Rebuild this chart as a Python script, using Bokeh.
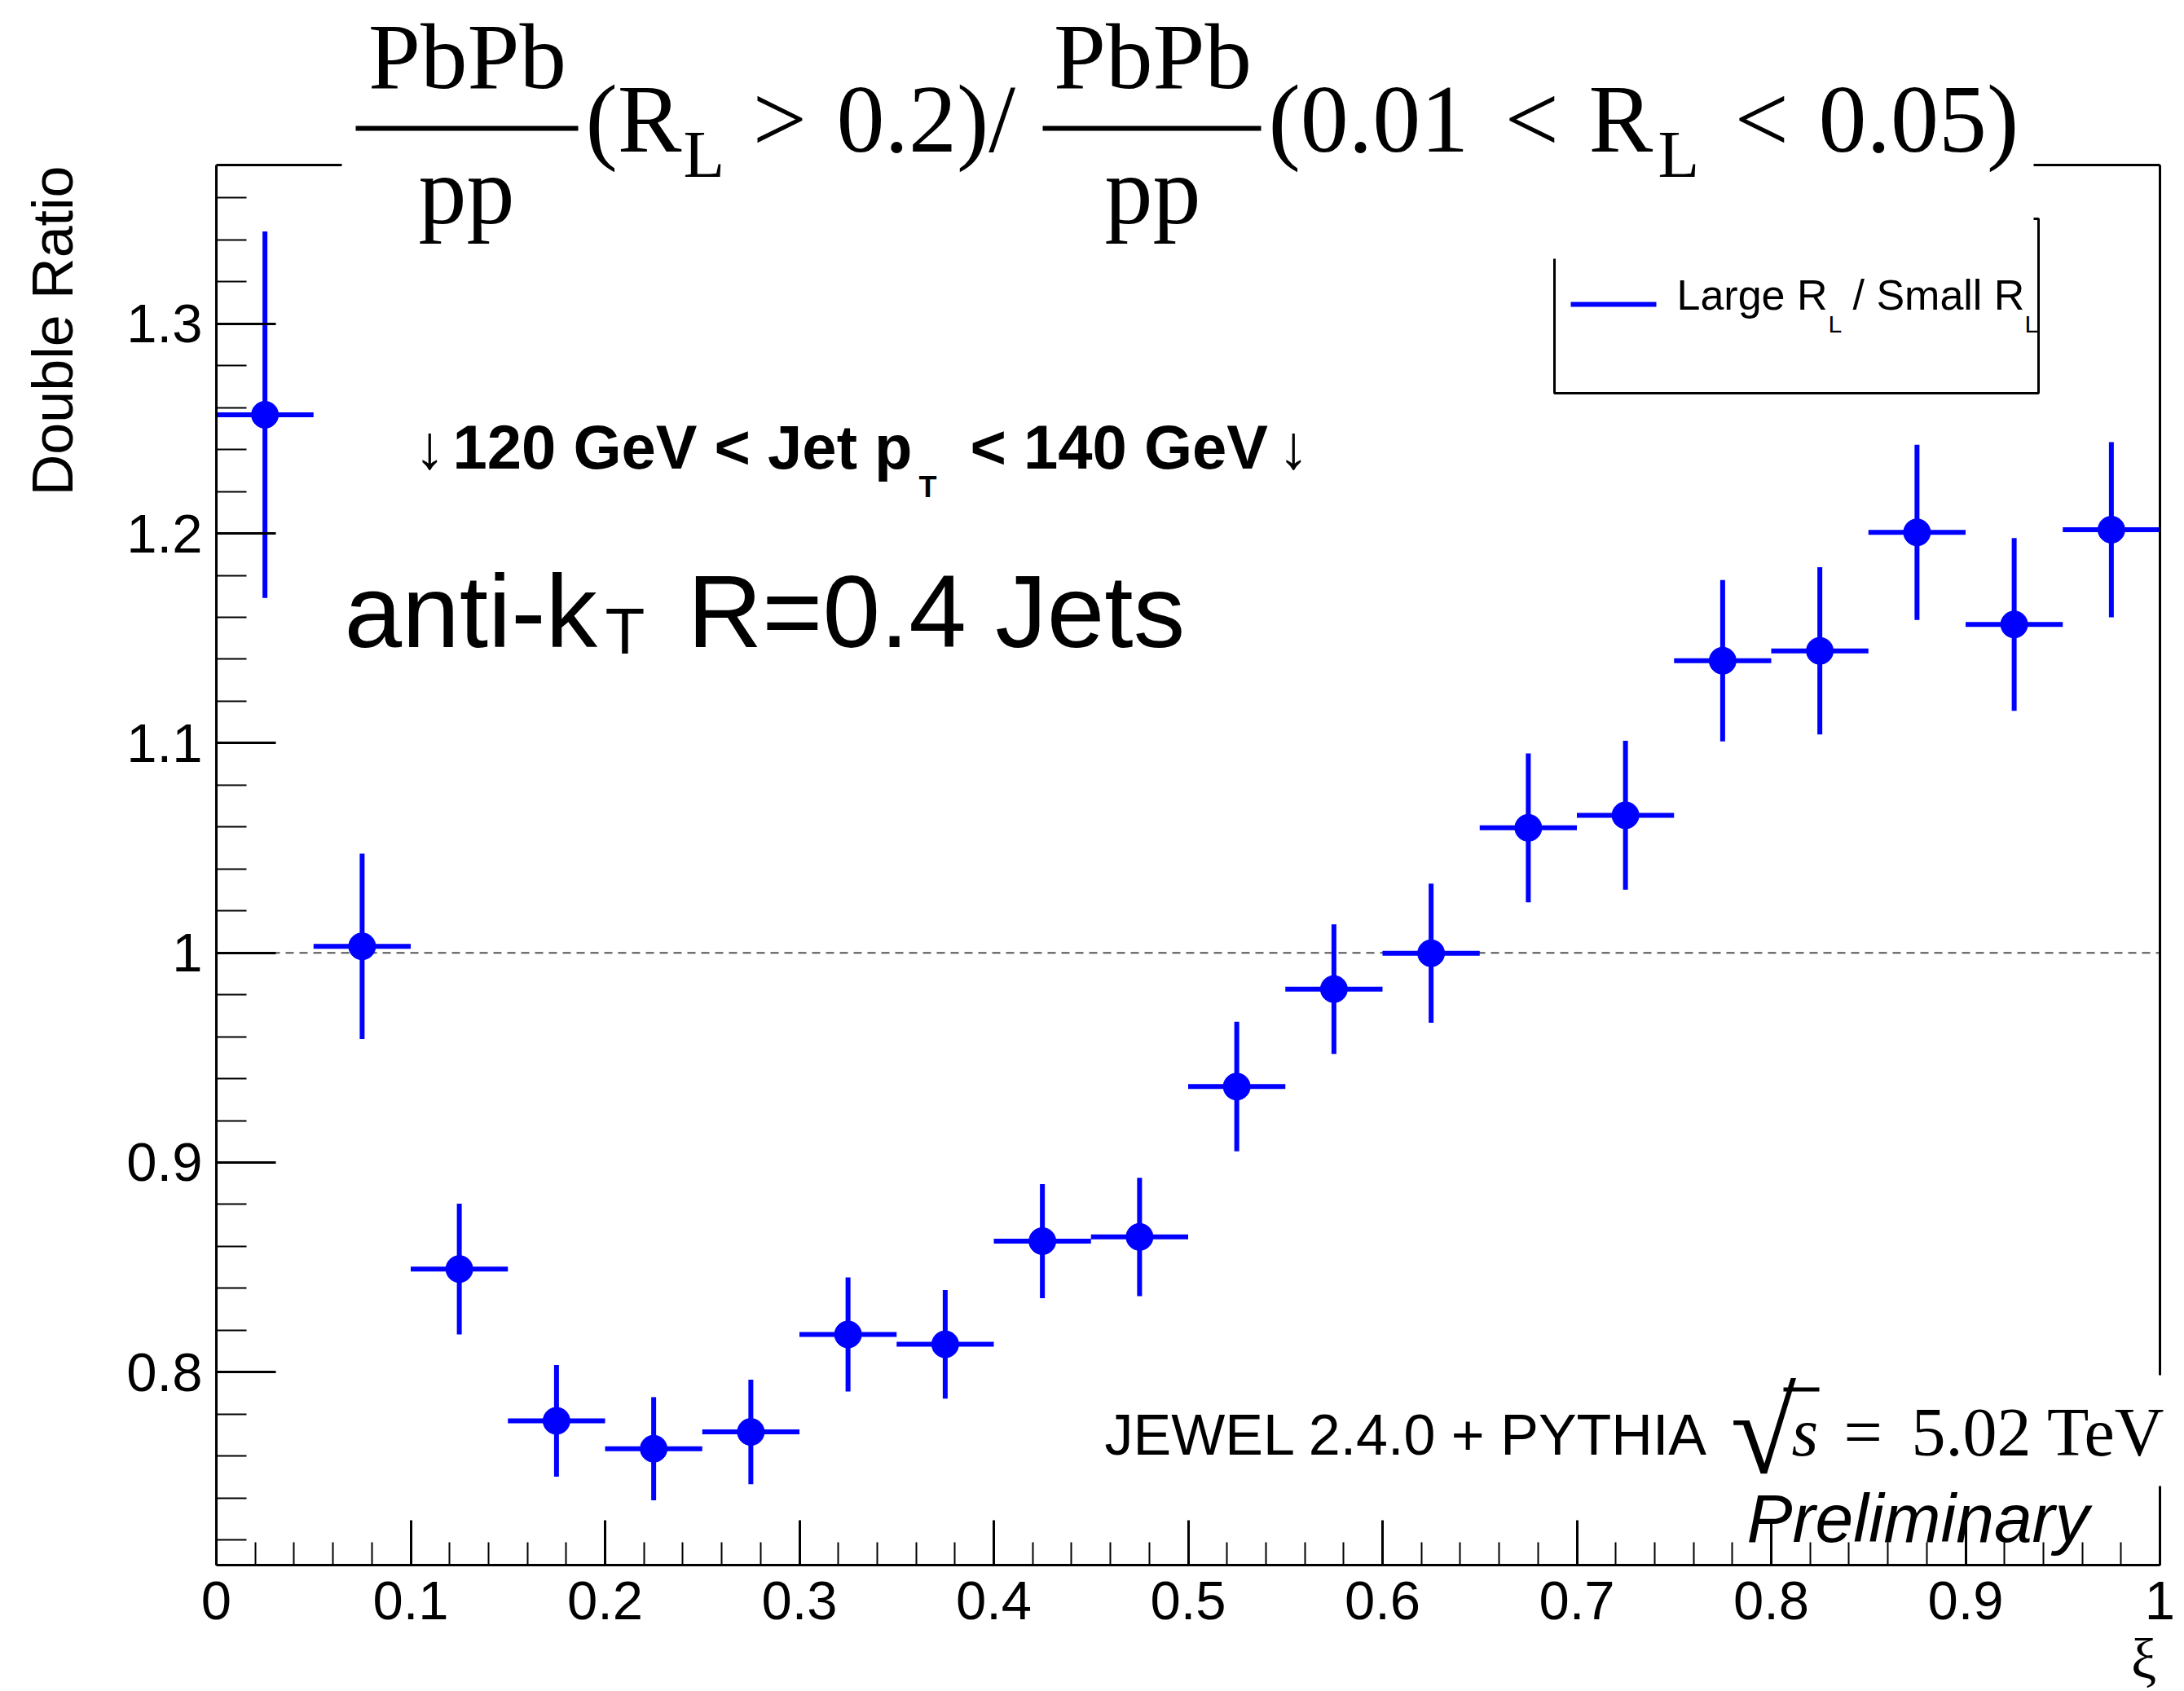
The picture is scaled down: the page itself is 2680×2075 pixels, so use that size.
import math
from bokeh.plotting import figure
from bokeh.models import (Label, BoxAnnotation, SingleIntervalTicker, FixedTicker,
                          CustomJSTickFormatter, Range1d, ColumnDataSource, LinearAxis)
from bokeh.embed import file_html
from bokeh.resources import INLINE

# ---------------- data ----------------
xi_bin_low = [0.00, 0.05, 0.10, 0.15, 0.20, 0.25, 0.30, 0.35, 0.40, 0.45,
              0.50, 0.55, 0.60, 0.65, 0.70, 0.75, 0.80, 0.85, 0.90, 0.95]
bin_width = 0.05
double_ratio = [1.2566, 1.0031, 0.8492, 0.7768, 0.7635, 0.7715, 0.8180, 0.8133,
                0.8625, 0.8645, 0.9362, 0.9827, 0.9998, 1.0596, 1.0656, 1.1393,
                1.1440, 1.2005, 1.1566, 1.2018]
double_ratio_err = [0.0874, 0.0442, 0.0312, 0.0266, 0.0246, 0.0249, 0.0272, 0.0259,
                    0.0272, 0.0282, 0.0309, 0.0309, 0.0332, 0.0355, 0.0355, 0.0385,
                    0.0399, 0.0418, 0.0412, 0.0418]
unity_level = 1.0
x_tick_interval = 0.1
y_tick_interval = 0.1
x_axis_range = (0.0, 1.0)
y_axis_range = (0.7080, 1.3757)

# ---------------- layout (page pixels) ----------------
W, H = 2680, 2075
FL, FR, FT, FB = 265, 2650, 202, 1920      # where the axes box sits on the page
XMIN, XMAX = x_axis_range
YMIN, YMAX = y_axis_range


def X(px):
    return XMIN + (px - FL) / (FR - FL) * (XMAX - XMIN)


def Y(py):
    return YMIN + (FB - py) / (FB - FT) * (YMAX - YMIN)


# the plotting frame covers the whole page; the axes are pinned at the data box
p = figure(width=W, height=H, x_range=Range1d(X(0), X(W)), y_range=Range1d(Y(H), Y(0)),
           output_backend="svg", toolbar_location=None,
           min_border_left=0, min_border_right=0, min_border_top=0, min_border_bottom=0)
p.background_fill_color = "white"
p.border_fill_color = "white"
p.outline_line_color = None
p.xgrid.visible = False
p.ygrid.visible = False

fmt = CustomJSTickFormatter(code="return (Math.round(tick*100)/100).toString();")
p.xaxis.fixed_location = YMIN
p.xaxis.bounds = (XMIN, XMAX)
p.yaxis.fixed_location = XMIN
p.yaxis.bounds = (YMIN, YMAX)
for ax, tin, tmin, stand, itv in ((p.xaxis, 55, 28, 20, x_tick_interval),
                                  (p.yaxis, 73, 37, 17, y_tick_interval)):
    ax.ticker = SingleIntervalTicker(interval=itv, num_minor_ticks=5)
    ax.formatter = fmt
    ax.major_tick_in = tin
    ax.major_tick_out = 0
    ax.minor_tick_in = tmin
    ax.minor_tick_out = 0
    ax.major_tick_line_width = 3
    ax.minor_tick_line_width = 2
    ax.axis_line_width = 3
    ax.major_label_standoff = stand
    ax.major_label_text_font = "Liberation Sans"
    ax.major_label_text_font_size = "67px"
    ax.major_label_text_color = "black"

# plain frame lines on top and right
for loc, bnds, side in ((XMAX, (YMIN, YMAX), "right"), (YMAX, (XMIN, XMAX), "above")):
    fr = LinearAxis(fixed_location=loc, bounds=bnds, ticker=FixedTicker(ticks=[]),
                    major_label_text_font_size="0px", axis_line_width=3,
                    major_tick_line_color=None, minor_tick_line_color=None)
    p.add_layout(fr, side)

# dashed reference line at unity
p.segment(x0=[XMIN], y0=[unity_level], x1=[XMAX], y1=[unity_level],
          line_color="#555555", line_width=2, line_dash="10 7", level="underlay")

# data
xc = [lo + bin_width / 2 for lo in xi_bin_low]
src = ColumnDataSource(dict(
    x=xc,
    y=double_ratio,
    x0=xi_bin_low,
    x1=[lo + bin_width for lo in xi_bin_low],
    ylo=[v - e for v, e in zip(double_ratio, double_ratio_err)],
    yhi=[v + e for v, e in zip(double_ratio, double_ratio_err)],
))
p.segment(x0="x0", y0="y", x1="x1", y1="y", source=src, line_color="#0000ff", line_width=6)
p.segment(x0="x", y0="ylo", x1="x", y1="yhi", source=src, line_color="#0000ff", line_width=6)
p.scatter(x="x", y="y", source=src, size=33, marker="circle",
          fill_color="#0000ff", line_color="#0000ff")


def box(l, r, t, b, fill="white", line=None, lw=3):
    bx = BoxAnnotation(left=X(l), right=X(r), top=Y(t), bottom=Y(b),
                       fill_color=fill if fill else "white", fill_alpha=1.0 if fill else 0.0,
                       line_color=line if line else "black", line_alpha=1.0 if line else 0.0,
                       line_width=lw)
    p.add_layout(bx)
    return bx


KB = 0.36   # empirical baseline correction (fraction of font size)


def lab(text, px, py, size, font="Liberation Sans", style="normal", align="left",
        angle=0.0):
    if angle:
        px = px - KB * size
    else:
        py = py - KB * size
    p.add_layout(Label(x=X(px), y=Y(py), text=text, text_font=font,
                       text_font_size=f"{size}px", text_font_style=style,
                       text_align=align, text_baseline="alphabetic", angle=angle,
                       text_color="black"))


# legend (drawn by hand so the subscripts can be kept)
box(1907, 2501, 268, 482, fill=None, line="black", lw=3)
box(1927, 2032, 370, 376, fill="#0000ff")
lab("Large R", 2057, 380, 52)
lab("L", 2243, 408, 30)
lab("/ Small R", 2273, 380, 52)
lab("L", 2484, 408, 30)

# white panel behind the title
box(419, 2495, 0, 317)
SERIF = "Liberation Serif"
lab("PbPb", 573, 110, 115, SERIF, align="center")
box(436, 709, 154, 160, fill="black")
lab("pp", 572, 276, 118, SERIF, align="center")
lab("(R", 718, 188, 118, SERIF)
lab("L", 838, 218, 83, SERIF)
lab(">", 923, 188, 118, SERIF)
lab("0.2)/", 1026, 188, 118, SERIF)
lab("PbPb", 1414, 110, 115, SERIF, align="center")
box(1279, 1547, 154, 160, fill="black")
lab("pp", 1414, 276, 118, SERIF, align="center")
lab("(0.01", 1556, 188, 118, SERIF)
lab("<", 1846, 188, 118, SERIF)
lab("R", 1949, 188, 118, SERIF)
lab("L", 2034, 218, 83, SERIF)
lab("<", 2128, 188, 118, SERIF)
lab("0.05)", 2231, 188, 118, SERIF)

# axis titles
lab("Double Ratio", 90, 203, 70, align="right", angle=math.pi / 2)
lab("ξ", 2630, 2060, 70, SERIF, align="center")

# jet selection texts
lab("↓", 508, 575, 76)
lab("120 GeV < Jet p", 555, 575, 76, style="bold")
lab("T", 1127, 610, 36, style="bold")
lab("< 140 GeV", 1190, 575, 76, style="bold")
lab("↓", 1568, 575, 76)
lab("anti-k", 422, 795, 127)
lab("T", 742, 803, 80)
lab("R=0.4 Jets", 843, 795, 127)

# generator text with white background
box(1340, 2680, 1687, 1823)
lab("JEWEL 2.4.0 + PYTHIA", 1355, 1786, 70)
lab("√", 2123, 1810, 147, SERIF)
box(2188, 2232, 1702, 1707, fill="black")
lab("s", 2198, 1787, 84, SERIF, style="italic")
lab("=", 2262, 1787, 84, SERIF)
lab("5.02 TeV", 2345, 1787, 84, SERIF)
lab("Preliminary", 2143, 1893, 84, style="italic")

open("out.html", "w").write(file_html(p, INLINE))
